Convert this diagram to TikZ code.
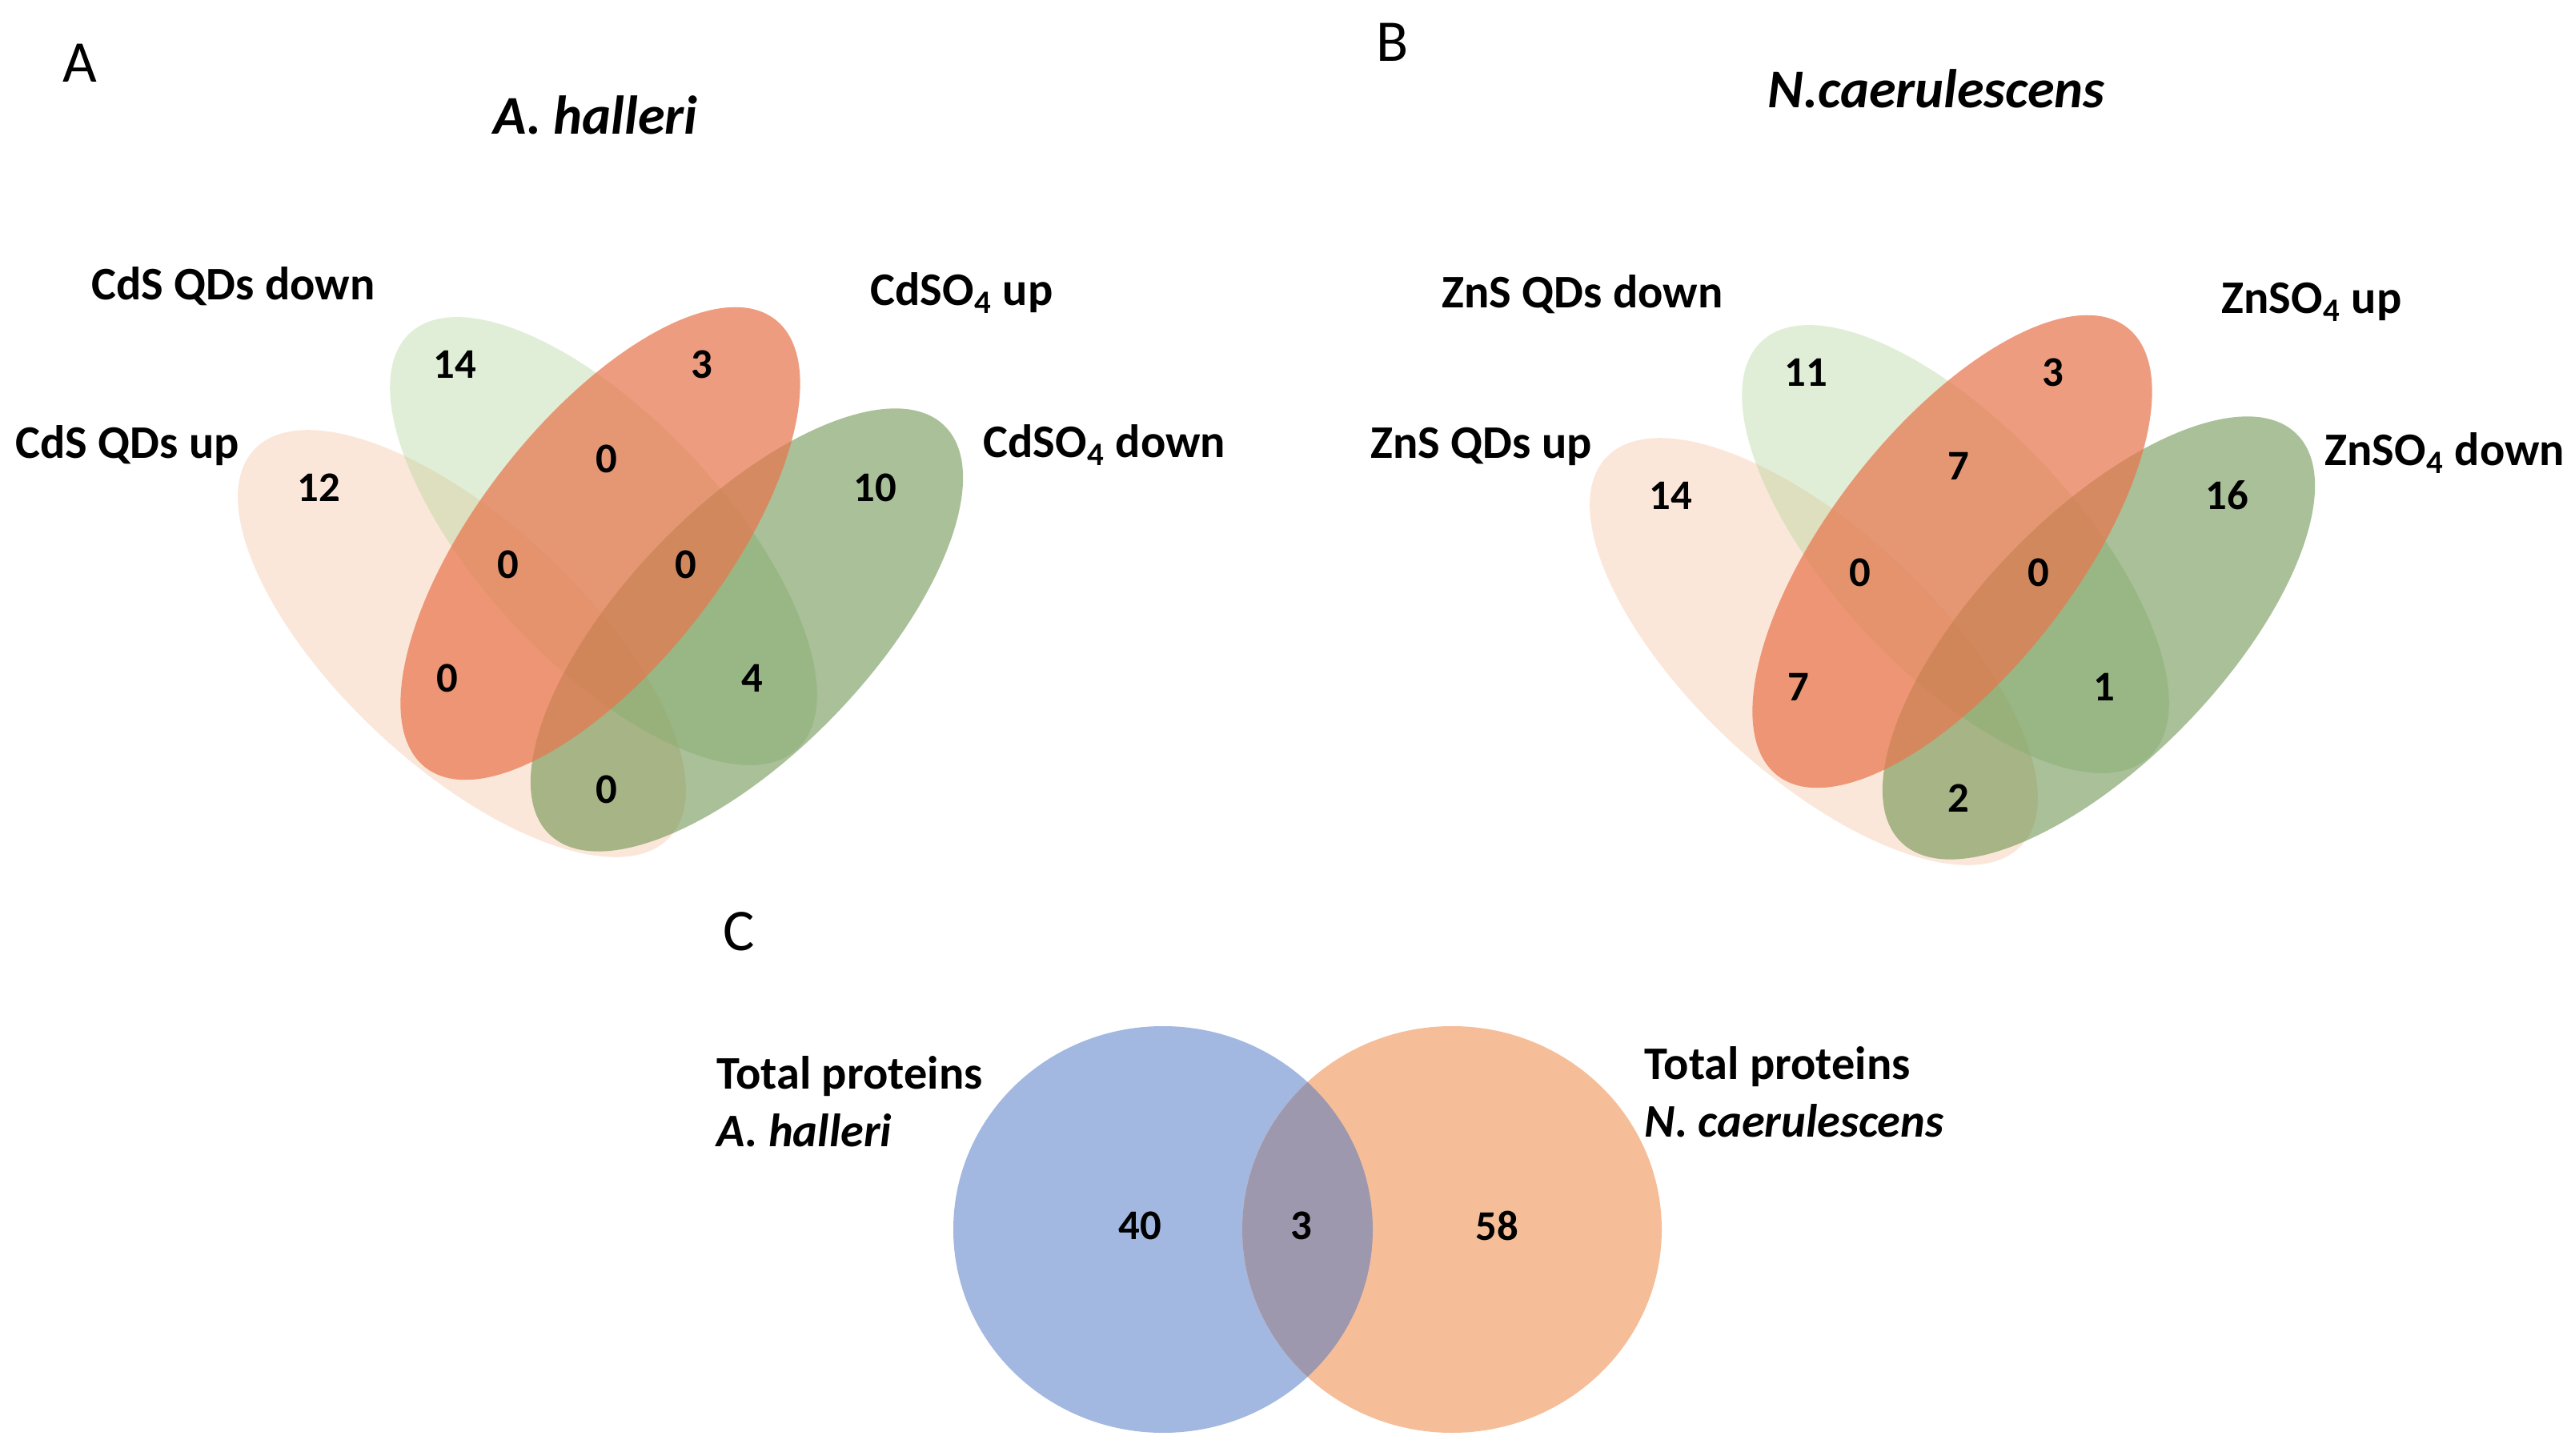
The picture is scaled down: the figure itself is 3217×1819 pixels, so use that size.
\documentclass[tikz,border=0pt]{standalone}
\usepackage{fontspec}
\setmainfont{Carlito}
\usepackage{xcolor}
\usepackage{tikz}
\usetikzlibrary{positioning}
\definecolor{peachfill}{RGB}{244,177,131}
\definecolor{leaffill}{RGB}{169,209,142}
\definecolor{salmonfill}{RGB}{232,118,78}
\definecolor{mossfill}{RGB}{84,130,53}
\definecolor{halblue}{RGB}{162,184,224}
\definecolor{noccorange}{RGB}{245,189,152}
\definecolor{bothgrey}{RGB}{158,152,174}
\tikzset{
  peach/.style={fill=peachfill, fill opacity=0.3},
  leaf/.style={fill=leaffill, fill opacity=0.35},
  salmon/.style={fill=salmonfill, fill opacity=0.72},
  moss/.style={fill=mossfill, fill opacity=0.5},
  setlab/.style={font=\fontsize{16.6}{20}\selectfont\bfseries, anchor=base west, inner sep=0pt},
  count/.style={font=\fontsize{15}{18}\selectfont\bfseries, inner sep=0pt},
  title/.style={font=\fontsize{19.4}{23}\selectfont\bfseries\itshape, anchor=base, inner sep=0pt},
  panel/.style={font=\fontsize{21}{25}\selectfont, anchor=base, inner sep=0pt},
}
\newcommand{\petal}[3]{(#1) ellipse [x radius=#2, y radius=#3]}

\begin{document}
\begin{tikzpicture}[x=0.01cm, y=-0.01cm]
\fill[white] (0,0) rectangle (3217,1819);
\useasboundingbox (0,0) rectangle (3217,1819);

% A: Arabidopsis halleri
\fill[peach, rotate around={137:(577,804)}] \petal{577,804}{355}{153};
\fill[leaf, rotate around={133:(754,676)}] \petal{754,676}{355}{153};
\fill[moss, rotate around={46:(933,787)}] \petal{933,787}{355}{153};
\fill[salmon, rotate around={52:(750,679)}] \petal{750,679}{355}{153};

% B: Noccaea caerulescens
\fill[peach, rotate around={137:(2266,814)}] \petal{2266,814}{355}{153};
\fill[leaf, rotate around={133:(2443,686)}] \petal{2443,686}{355}{153};
\fill[moss, rotate around={46:(2622,797)}] \petal{2622,797}{355}{153};
\fill[salmon, rotate around={52:(2439,689)}] \petal{2439,689}{355}{153};

% C: totals
\fill[halblue] \petal{1453,1536}{262}{254};
\fill[noccorange] \petal{1814,1536}{262}{254};
\begin{scope}
  \clip \petal{1453,1536}{262}{254};
  \fill[bothgrey] \petal{1814,1536}{262}{254};
\end{scope}

% panel letters and titles
\node[panel] (pA) at (100,103) {A};
\node[panel] (pB) at (1740,77) {B};
\node[panel] (pC) at (923,1187) {C};
\node[title] (tA) at (744,168) {A. halleri};
\node[title] (tB) at (2419,135) {N.caerulescens};

% set labels
\node[setlab] (qdA) at (114,375) {CdS QDs down};
\node[setlab] (quA) at (19,573) {CdS QDs up};
\node[setlab] (suA) at (1087,382) {CdSO\textsubscript{4} up};
\node[setlab] (sdA) at (1228,572) {CdSO\textsubscript{4} down};
\node[setlab] (qdB) at (1801,385) {ZnS QDs down};
\node[setlab] (quB) at (1712,573) {ZnS QDs up};
\node[setlab] (suB) at (2775,392) {ZnSO\textsubscript{4} up};
\node[setlab] (sdB) at (2904,582) {ZnSO\textsubscript{4} down};
\node[setlab] (totA) at (895,1360) {Total proteins};
\node[setlab] (spA) at (895,1432) {\itshape A. halleri};
\node[setlab] (totB) at (2054,1348) {Total proteins};
\node[setlab] (spB) at (2054,1420) {\itshape N. caerulescens};

% counts A
\node[count] (a1) at (568,455) {14};
\node[count] (a2) at (877,455) {3};
\node[count] (a3) at (398,609) {12};
\node[count] (a4) at (758,573) {0};
\node[count] (a5) at (1093,609) {10};
\node[count] (a6) at (635,705) {0};
\node[count] (a7) at (857,705) {0};
\node[count] (a8) at (559,847) {0};
\node[count] (a9) at (940,847) {4};
\node[count] (a10) at (758,986) {0};

% counts B
\node[count] (b1) at (2256,465) {11};
\node[count] (b2) at (2565,465) {3};
\node[count] (b3) at (2087,619) {14};
\node[count] (b4) at (2447,582) {7};
\node[count] (b5) at (2782,619) {16};
\node[count] (b6) at (2324,715) {0};
\node[count] (b7) at (2547,715) {0};
\node[count] (b8) at (2247,858) {7};
\node[count] (b9) at (2629,858) {1};
\node[count] (b10) at (2447,997) {2};

% counts C
\node[count] (c1) at (1424,1531) {40};
\node[count] (c2) at (1626,1531) {3};
\node[count] (c3) at (1870,1531) {58};
\end{tikzpicture}
\end{document}
